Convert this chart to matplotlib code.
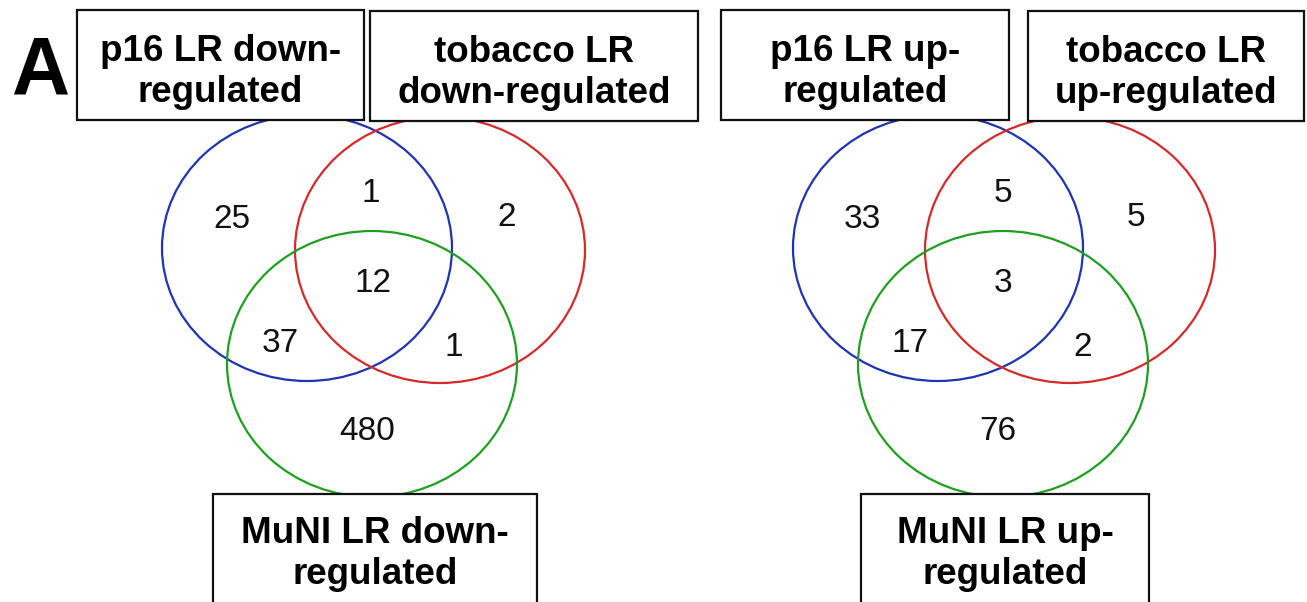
import matplotlib
matplotlib.use("Agg")
import matplotlib.pyplot as plt
from matplotlib.patches import Ellipse, Rectangle

# ---- data ----
panel_letter = "A"
set_labels_down = ["p16 LR down-\nregulated", "tobacco LR\ndown-regulated", "MuNI LR down-\nregulated"]
set_labels_up = ["p16 LR up-\nregulated", "tobacco LR\nup-regulated", "MuNI LR up-\nregulated"]
# region order: p16 only, p16&tob, tob only, all three, p16&MuNI, tob&MuNI, MuNI only
regions = ["p16", "p16_tob", "tob", "all", "p16_muni", "tob_muni", "muni"]
counts_down = [25, 1, 2, 12, 37, 1, 480]
counts_up = [33, 5, 5, 3, 17, 2, 76]

# ---- layout (pixel coordinates) ----
W, H = 1307, 602
colors = ["#1f33b3", "#d42a2a", "#1f9e1f"]
ell_w, ell_h = 290, 266

layouts = [
    dict(centers=[(307, 248), (440, 250), (372, 364)],
         label_pos=[(232, 219), (371, 194), (507, 218), (373, 283), (280, 343), (454, 347), (367, 431)],
         boxes=[(77, 10, 287, 110), (370, 11, 328, 110), (213, 494, 324, 140)],
         labels=set_labels_down, counts=counts_down),
    dict(centers=[(938, 248), (1070, 250), (1003, 364)],
         label_pos=[(862, 219), (1003, 194), (1136, 218), (1003, 283), (910, 343), (1083, 348), (998, 431)],
         boxes=[(721, 10, 288, 110), (1028, 11, 276, 110), (861, 494, 288, 140)],
         labels=set_labels_up, counts=counts_up),
]

fig = plt.figure(figsize=(W / 100, H / 100), dpi=100)
ax = fig.add_axes([0, 0, 1, 1])
ax.set_xlim(0, W)
ax.set_ylim(H, 0)
ax.axis("off")

for lay in layouts:
    for (cx, cy), col in zip(lay["centers"], colors):
        ax.add_patch(Ellipse((cx, cy), ell_w, ell_h, fill=False, edgecolor=col, lw=1.6, zorder=2))
    for (x, y), c in zip(lay["label_pos"], lay["counts"]):
        ax.text(x, y, str(c), ha="center", va="center", fontsize=24,
                family="Liberation Sans", color="#111111", zorder=3)
    for (bx, by, bw, bh), lab in zip(lay["boxes"], lay["labels"]):
        ax.add_patch(Rectangle((bx, by), bw, bh, facecolor="white", edgecolor="#111111",
                               lw=1.6, zorder=4))
        ty = by + 62 if by < 100 else by + 60
        ax.text(bx + bw / 2, ty, lab, ha="center", va="center", fontsize=26.5,
                fontweight="bold", family="Liberation Sans", linespacing=1.22, zorder=5)

ax.text(41, 72, panel_letter, ha="center", va="center", fontsize=58,
        fontweight="bold", family="Liberation Sans", zorder=5)

fig.savefig("out.png", dpi=100)
